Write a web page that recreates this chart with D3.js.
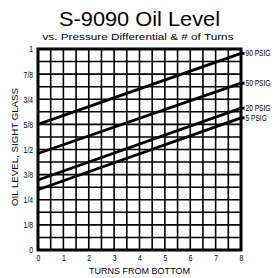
<!DOCTYPE html>
<html>
<head>
<meta charset="utf-8">
<script src="https://cdn.jsdelivr.net/npm/d3@7"></script>
<style>
body { margin: 0; background: #fff; }
text { fill: #000; }
</style>
</head>
<body>
<div id="visContainer"></div>
<script>
'use strict';
// data: oil level at 0 and 8 turns for each pressure
var series = ['90 PSIG', '50 PSIG', '20 PSIG', '5 PSIG'];
var turns = [0, 8];
var level90 = [0.625, 0.978];
var level50 = [0.48, 0.83];
var level20 = [0.348, 0.706];
var level5 = [0.30, 0.657];
var xTicks = [0, 1, 2, 3, 4, 5, 6, 7, 8];
var yTicks = [0, 1/8, 1/4, 3/8, 1/2, 5/8, 3/4, 7/8, 1];
var yTickLabels = ['0', '1/8', '1/4', '3/8', '1/2', '5/8', '3/4', '7/8', '1'];

var width = 275, height = 278;
var padding = { top: 49, right: 34, bottom: 28, left: 38 };
var font = '"Liberation Sans", Arial, sans-serif';

var svg = d3.select('#visContainer')
  .append('svg')
  .attr('width', width)
  .attr('height', height);

var x = d3.scaleLinear().domain([0, 8]).range([padding.left, width - padding.right]);
var y = d3.scaleLinear().domain([0, 1]).range([height - padding.bottom, padding.top]);

//squeeze a text horizontally, the reference uses a narrow face
function condense(sel, k) {
  sel.each(function() {
    var len = this.getComputedTextLength();
    d3.select(this).attr('textLength', len * k).attr('lengthAdjust', 'spacingAndGlyphs');
  });
}

// titles
svg.append('text').attr('x', 139.5).attr('y', 26)
  .attr('text-anchor', 'middle')
  .style('font-family', font)
  .style('font-size', '21px')
  .attr('textLength', 161).attr('lengthAdjust', 'spacingAndGlyphs')
  .text('S-9090 Oil Level');
svg.append('text').attr('x', 138).attr('y', 39.5)
  .attr('text-anchor', 'middle')
  .style('font-family', font)
  .style('font-size', '9.5px')
  .attr('textLength', 191).attr('lengthAdjust', 'spacingAndGlyphs')
  .text('vs. Pressure Differential & # of Turns');

// grid, every half turn and every 1/16
var grid = svg.append('g');
d3.range(0, 8.01, 0.5).forEach(function(v) {
  grid.append('line')
    .attr('x1', x(v)).attr('x2', x(v))
    .attr('y1', y(0)).attr('y2', y(1))
    .attr('stroke', '#000').attr('stroke-width', 1.6);
});
d3.range(0, 1.001, 1/16).forEach(function(v) {
  grid.append('line')
    .attr('x1', x(0)).attr('x2', x(8))
    .attr('y1', y(v)).attr('y2', y(v))
    .attr('stroke', '#000').attr('stroke-width', 1.6);
});
svg.append('rect')
  .attr('x', x(0)).attr('y', y(1))
  .attr('width', x(8) - x(0)).attr('height', y(0) - y(1))
  .attr('fill', 'none').attr('stroke', '#000').attr('stroke-width', 3);

// axes
var xAxis = d3.axisBottom(x).tickValues(xTicks).tickSize(0).tickPadding(5);
var yAxis = d3.axisLeft(y).tickValues(yTicks).tickSize(0).tickPadding(5)
  .tickFormat(function(d, i) { return yTickLabels[i]; });
var gx = svg.append('g').attr('transform', 'translate(0,' + y(0) + ')').call(xAxis);
var gy = svg.append('g').attr('transform', 'translate(' + x(0) + ',0)').call(yAxis);
[gx, gy].forEach(function(g) {
  g.select('.domain').remove();
  g.selectAll('text').style('font-family', font).style('font-size', '9px').attr('fill', '#000')
    .call(condense, 0.75);
});

svg.append('text').attr('x', x(4)).attr('y', 274)
  .attr('text-anchor', 'middle')
  .style('font-family', font).style('font-size', '9.5px')
  .attr('textLength', 101).attr('lengthAdjust', 'spacingAndGlyphs')
  .text('TURNS FROM BOTTOM');
svg.append('text')
  .attr('transform', 'translate(18,147) rotate(-90)')
  .attr('text-anchor', 'middle')
  .style('font-family', font).style('font-size', '9.5px')
  .attr('textLength', 118).attr('lengthAdjust', 'spacingAndGlyphs')
  .text('OIL LEVEL, SIGHT GLASS');

// pressure lines
var levels = [level90, level50, level20, level5];
var line = d3.line()
  .x(function(d) { return x(d[0]); })
  .y(function(d) { return y(d[1]); });
levels.forEach(function(lv, i) {
  var pts = turns.map(function(t, j) { return [t, lv[j]]; });
  svg.append('path')
    .attr('d', line(pts))
    .attr('fill', 'none')
    .attr('stroke', '#000')
    .attr('stroke-width', 2.8);
  svg.append('rect')
    .attr('x', x(8)).attr('y', y(lv[1]) - 1.5)
    .attr('width', 3.5).attr('height', 3).attr('fill', '#000');
  svg.append('text')
    .attr('transform', 'translate(' + (x(8) + 4.5) + ',' + (y(lv[1]) + 3) + ') scale(0.78,1)')
    .style('font-family', font).style('font-size', '8.5px')
    .text(series[i]);
});
</script>
</body>
</html>
